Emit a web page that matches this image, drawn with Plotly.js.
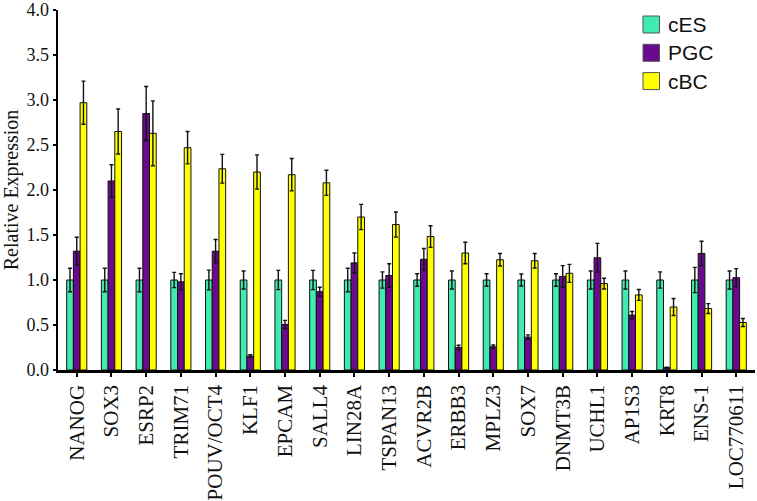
<!DOCTYPE html>
<html>
<head>
<meta charset="utf-8">
<script src="https://cdn.plot.ly/plotly-3.0.1.min.js"></script>
<style>html,body{margin:0;padding:0;background:#fff;}#chart{width:757px;height:501px;}</style>
</head>
<body>
<div id="chart"></div>
<script>
const genes = ["NANOG","SOX3","ESRP2","TRIM71","POUV/OCT4","KLF1","EPCAM","SALL4","LIN28A","TSPAN13","ACVR2B","ERBB3","MPLZ3","SOX7","DNMT3B","UCHL1","AP1S3","KRT8","ENS-1","LOC770611"];
const seriesNames = ["cES","PGC","cBC"];
const seriesColors = ["#40EBB2","#6B0A8F","#FFFF00"];
const cES    = [1.0,1.0,1.0,1.0,1.0,1.0,1.0,1.0,1.0,1.0,1.0,1.0,1.0,1.0,1.0,1.0,1.0,1.0,1.0,1.0];
const cESErr = [0.13,0.13,0.13,0.085,0.11,0.10,0.107,0.107,0.13,0.09,0.07,0.10,0.07,0.066,0.07,0.10,0.10,0.09,0.14,0.10];
const PGC    = [1.32,2.10,2.85,0.98,1.32,0.155,0.506,0.87,1.19,1.05,1.23,0.25,0.258,0.365,1.04,1.247,0.61,0.026,1.295,1.026];
const PGCErr = [0.155,0.18,0.30,0.09,0.13,0.015,0.045,0.05,0.11,0.13,0.12,0.025,0.02,0.025,0.12,0.16,0.04,0.005,0.135,0.10];
const cBC    = [2.97,2.65,2.63,2.47,2.236,2.20,2.17,2.08,1.70,1.616,1.483,1.30,1.225,1.214,1.074,0.96,0.834,0.70,0.683,0.528];
const cBCErr = [0.24,0.25,0.36,0.18,0.16,0.19,0.18,0.14,0.14,0.14,0.12,0.12,0.07,0.08,0.10,0.06,0.06,0.095,0.055,0.045];
const yTicks = [0,0.5,1.0,1.5,2.0,2.5,3.0,3.5,4.0];
const yTickText = ["0.0","0.5","1.0","1.5","2.0","2.5","3.0","3.5","4.0"];

const vals = [cES, PGC, cBC];
const errs = [cESErr, PGCErr, cBCErr];
const traces = seriesNames.map((n,i)=>({
  type:"bar", name:n, x:genes, y:vals[i],
  marker:{color:seriesColors[i], line:{color:"#111", width:1}},
  error_y:{type:"data", array:errs[i], visible:true, color:"#111", thickness:1.4, width:2},
  showlegend:false, hoverinfo:"skip"
}));

// legend drawn in pixel space
const W=757,H=501, mL=58, mR=2, mT=10, mB=131;
const pw=W-mL-mR, ph=H-mT-mB;
const px2x = p => (p-mL)/pw;
const py2y = p => (H-mB-p)/ph;
const shapes=[], annotations=[];
seriesNames.forEach((n,i)=>{
  const top = 16 + i*28.3;
  shapes.push({type:"rect", xref:"paper", yref:"paper",
    x0:px2x(643), x1:px2x(659.5), y0:py2y(top+17), y1:py2y(top),
    fillcolor:seriesColors[i], line:{color:"#555", width:1}});
  annotations.push({xref:"paper", yref:"paper", x:px2x(666), y:py2y(top+8.5),
    xanchor:"left", yanchor:"middle", text:n, showarrow:false,
    font:{family:"Liberation Sans, Arial, sans-serif", size:21, color:"#111"}});
});

const layout = {
  width:W, height:H,
  margin:{l:mL, r:mR, t:mT, b:mB, pad:0},
  paper_bgcolor:"#fff", plot_bgcolor:"#fff",
  barmode:"group", bargap:0.42, bargroupgap:0,
  font:{family:"Liberation Serif, 'DejaVu Serif', serif", color:"#111"},
  xaxis:{type:"category", range:[-0.54,19.54], showgrid:false, zeroline:false,
    showline:true, linecolor:"#000", linewidth:2.5, ticks:"outside", ticklen:4, tickwidth:2, tickcolor:"#000",
    tickangle:-90, tickfont:{size:21, family:"Liberation Serif, serif", color:"#111"}},
  yaxis:{range:[0,4.0], tickvals:yTicks, ticktext:yTickText, showgrid:false, zeroline:false,
    showline:true, linecolor:"#000", linewidth:2.5, ticks:"outside", ticklen:3, tickwidth:1.5, tickcolor:"#000",
    tickfont:{size:18, family:"Liberation Serif, serif", color:"#111"},
    title:{text:"Relative Expression", font:{size:20, family:"Liberation Serif, serif", color:"#111"}, standoff:6}},
  shapes:shapes, annotations:annotations
};
Plotly.newPlot("chart", traces, layout, {staticPlot:true, displayModeBar:false});
</script>
</body>
</html>
